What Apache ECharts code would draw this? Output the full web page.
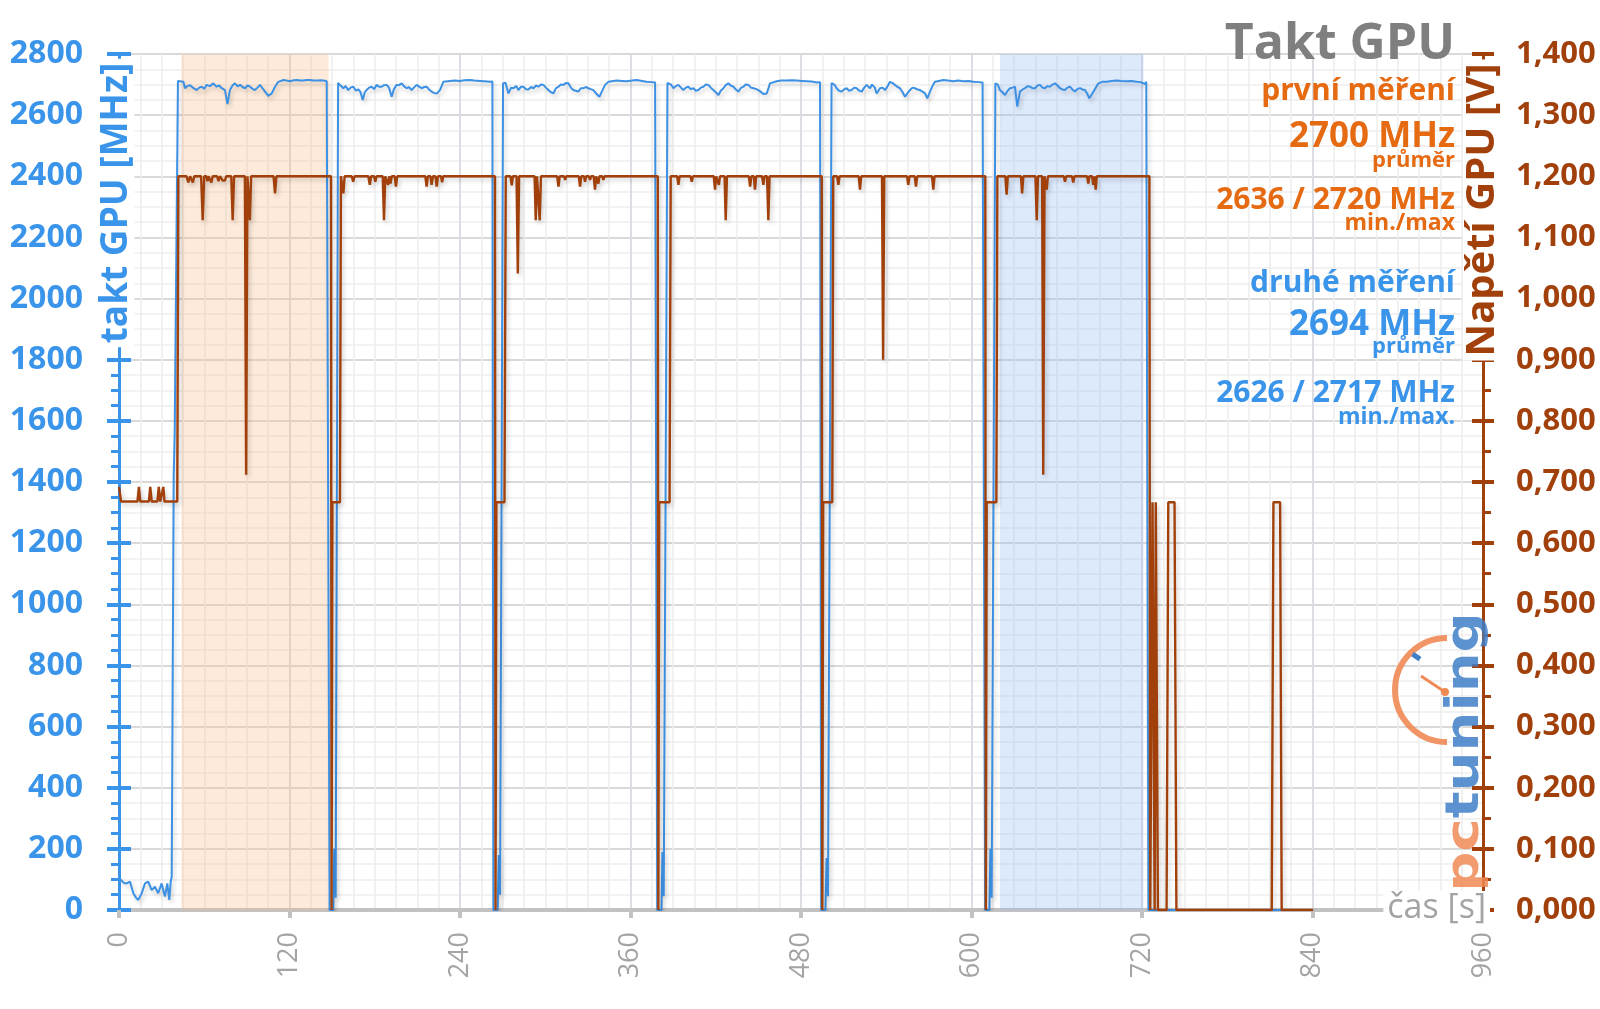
<!DOCTYPE html>
<html>
<head>
<meta charset="utf-8">
<script src="https://cdn.jsdelivr.net/npm/echarts@6/dist/echarts.min.js"></script>
<style>html,body{margin:0;padding:0;background:#fff}#c{width:1600px;height:1009px}</style>
</head>
<body>
<div id="c"></div>
<script>
// ---- data (time [s], value) ----
const timeTicks = [0, 120, 240, 360, 480, 600, 720, 840, 960];

const clockMHz = [
 [0,105],[1.9,96],[3.5,88],[5.4,87],[7.7,93],[10.1,55],[12,40],[13.6,33],[16,55],[18.3,87],[20.6,93],[23,65],[25.3,76],[27.6,55],[30,87],[32.3,44],[34,87],[35.4,33],[36.4,93],[37.1,109],
 [38.5,1420],[39.2,1560],[41.5,2712],
 [41.8,2709],[45.3,2709],[46.5,2688],[48,2695],[50,2698],[52,2690],[54.7,2682],[56.5,2690],[58.2,2693],[60,2686],[61.7,2699],[64,2695],[66.4,2704],[68.7,2693],[70.5,2697],[72.3,2688],[74.6,2682],[76.3,2636],[78.1,2682],[80,2698],[81.6,2704],[83.5,2694],[85.2,2699],[87,2692],[88.7,2688],[90.5,2697],[92.2,2693],[94,2686],[95.7,2682],[97.5,2690],[99.2,2699],[101,2688],[102.8,2677],[105.1,2663],[107.5,2671],[109.8,2693],[112.1,2709],[115.7,2715],[118,2713],[120.4,2711],[123,2714],[125.1,2715],[127.5,2713],[129.7,2713],[132,2715],[134.4,2715],[137,2713],[139.1,2713],[142,2714],[144,2713],[146.2,2711],[147.3,2712],
 [148.2,0],[150.8,0],[151.5,200],[152.5,40],[154.2,2705],
 [155,2709],[157.9,2688],[159.5,2695],[161.4,2682],[163,2690],[164.9,2693],[166.8,2680],[168.5,2684],[170,2675],[171.5,2650],[173,2675],[174.3,2682],[176,2690],[177.8,2693],[179.5,2685],[181.4,2699],[183,2693],[184.9,2693],[186.5,2698],[188.4,2699],[190,2690],[191.9,2660],[193.5,2685],[195.4,2699],[197,2698],[199,2704],[200.5,2695],[202.5,2688],[204,2692],[206,2682],[207.5,2690],[209.5,2699],[211,2694],[213,2688],[214.8,2692],[216.5,2693],[218.2,2684],[220,2677],[222,2672],[223.6,2671],[225.9,2682],[228.3,2709],[233,2712],[236,2713],[240,2712],[243,2714],[247,2715],[250,2713],[254.1,2712],[257,2711],[261.1,2709],[262.8,2710],
 [263.5,0],[266.5,0],[267.3,180],[268.2,50],[270.3,2704],
 [272,2706],[274.1,2671],[276,2690],[277.6,2688],[279.5,2695],[281.1,2682],[283,2693],[284.6,2693],[286.5,2685],[288.1,2684],[290,2692],[291.7,2688],[293.5,2697],[295.2,2693],[297,2700],[298.7,2699],[300.5,2690],[302.2,2682],[304,2675],[305.7,2671],[307.5,2688],[309.3,2693],[311,2700],[312.8,2699],[314.5,2705],[316.3,2704],[318,2690],[319.8,2682],[321.5,2680],[323.3,2677],[325,2688],[326.9,2688],[328.5,2692],[330.4,2688],[332,2685],[333.9,2682],[336.2,2669],[338.1,2660],[339.8,2677],[342.1,2699],[344.5,2709],[350.3,2713],[354,2712],[357.3,2711],[361,2713],[364.4,2715],[368,2712],[371.4,2709],[375,2708],[377.3,2707],[378,2712],
 [378.8,0],[381.8,0],[382.5,190],[383.4,45],[386,2705],
 [386.7,2704],[388.5,2700],[390.2,2688],[392,2695],[393.7,2699],[395.5,2690],[397.2,2682],[399,2690],[400.7,2693],[402.5,2685],[404.3,2688],[406,2680],[407.8,2682],[409.5,2690],[411.3,2693],[413,2700],[414.8,2699],[416.5,2690],[418.3,2682],[420,2675],[421.9,2666],[423.5,2680],[425.4,2688],[427,2698],[428.9,2704],[430.5,2697],[432.4,2693],[434,2685],[435.9,2677],[437.5,2688],[439.5,2693],[441,2700],[443,2699],[444.8,2690],[446.5,2688],[448.2,2686],[450,2682],[451.8,2676],[453.5,2669],[455.9,2671],[458.2,2704],[462.9,2711],[466,2713],[470,2713],[473.5,2714],[477,2713],[480.5,2712],[484,2711],[487.5,2710],[491,2707],[493.4,2708],
 [494.2,0],[497.2,0],[498,170],[499,45],[501.5,2705],
 [501.8,2704],[503.5,2700],[505.1,2688],[506.8,2680],[508.6,2677],[510.3,2684],[512.1,2688],[513.8,2680],[515.6,2682],[517.5,2690],[519.2,2688],[521,2680],[522.7,2677],[524.5,2690],[526.2,2699],[527.5,2694],[528.6,2688],[530,2700],[530.9,2704],[532,2690],[533.2,2671],[534.5,2680],[535.6,2688],[537.5,2690],[539.1,2682],[541,2695],[542.6,2709],[544.5,2705],[546.1,2699],[548,2692],[549.7,2688],[551.5,2675],[553.2,2660],[555,2672],[556.7,2682],[558.5,2690],[560.2,2688],[562,2684],[563.7,2682],[565.5,2677],[567.3,2671],[568.9,2655],[570.8,2677],[572.5,2695],[574.3,2709],[577,2712],[580.2,2715],[583.5,2713],[587.2,2711],[590.5,2713],[594.2,2711],[598,2712],[601.3,2709],[605,2708],[607.8,2707],[608.8,2710],
 [609.6,0],[612.6,0],[613.3,200],[614.2,40],[616.8,2704],
 [617.2,2704],[618.5,2700],[620,2682],[621.8,2675],[623.6,2666],[625.5,2680],[627.1,2688],[629,2690],[630.6,2693],[632.2,2628],[634.1,2677],[636,2684],[637.6,2688],[639.5,2695],[641.2,2693],[643,2688],[644.7,2688],[646.5,2697],[648.2,2699],[650,2690],[651.7,2688],[653.5,2695],[655.2,2693],[657,2700],[658.8,2704],[660.5,2697],[662.3,2688],[664,2684],[665.8,2682],[667.5,2690],[669.3,2693],[671,2684],[672.8,2677],[674.6,2686],[676.4,2688],[678,2684],[679.9,2682],[681.5,2670],[682.9,2655],[684.3,2665],[685.7,2671],[687.5,2690],[689.3,2704],[692,2709],[695.1,2709],[698.5,2712],[702.2,2713],[705.5,2712],[709.2,2711],[712.5,2712],[716.2,2709],[719,2708],[722.1,2702],[723,2709],[723.7,2708],
 [724.5,0],[840.4,0]
];

const voltageV = [
 [0,0.692],[1.5,0.668],[13,0.668],[14,0.692],[15,0.668],[21,0.668],[22,0.692],[23,0.668],[27,0.668],[28,0.692],[29,0.668],[30.3,0.668],[31.2,0.692],[32,0.668],[41,0.668],
 [41.8,1.2],[47.5,1.2],[48.8,1.19],[50,1.2],[51,1.2],[52,1.19],[53,1.2],[57.8,1.2],[58.9,1.128],[60,1.2],[61.5,1.2],[62.3,1.192],[63,1.2],[64.3,1.2],[65,1.19],[66,1.2],[69,1.2],[70,1.192],[71,1.2],[72.2,1.2],[73,1.193],[74.5,1.193],[75.5,1.2],[79,1.2],[80,1.128],[81,1.2],[88.6,1.2],[89.5,0.712],[90.4,1.2],[91.3,1.2],[92.1,1.128],[93,1.2],[108.8,1.2],[109.8,1.172],[110.8,1.2],[149.2,1.2],
 [149.6,0],[150.2,0.667],[155.5,0.667],[156.2,1.2],
 [157,1.2],[157.9,1.172],[158.8,1.2],[163.8,1.2],[164.8,1.191],[165.8,1.2],[175.5,1.2],[176.5,1.186],[177.5,1.2],[179.5,1.2],[180.4,1.191],[181.3,1.2],[185.6,1.2],[186.5,1.128],[187.4,1.2],[188.5,1.2],[189.4,1.186],[190.2,1.2],[191.1,1.188],[192,1.2],[194,1.2],[194.9,1.183],[195.8,1.2],[215.6,1.2],[216.5,1.183],[217.4,1.2],[219.2,1.2],[220,1.186],[221,1.2],[222.7,1.2],[223.6,1.183],[224.5,1.2],[226.6,1.2],[227.4,1.19],[228.2,1.2],[264.6,1.2],
 [265,0],[265.6,0.667],[271.3,0.667],[272.2,1.2],
 [275.5,1.2],[276.4,1.185],[277.3,1.2],[279.8,1.2],[280.7,1.041],[281.6,1.2],[292.5,1.2],[293.3,1.128],[294.2,1.2],[295.3,1.2],[296.1,1.128],[297,1.2],[308.4,1.2],[309.3,1.183],[310.2,1.2],[313.2,1.2],[314,1.194],[314.8,1.2],[323.6,1.2],[324.5,1.183],[325.4,1.2],[327.2,1.2],[328,1.191],[328.8,1.2],[330.7,1.2],[331.5,1.194],[332.3,1.2],[334.1,1.2],[335,1.178],[335.9,1.2],[336.6,1.2],[337.4,1.188],[338.2,1.2],[340.1,1.2],[340.9,1.194],[341.7,1.2],[379.2,1.2],
 [379.6,0],[380.2,0.667],[387.5,0.667],[388.3,1.2],
 [392.8,1.2],[393.7,1.186],[394.6,1.2],[402.2,1.2],[403.1,1.191],[404,1.2],[418.6,1.2],[419.5,1.178],[420.3,1.2],[421.5,1.2],[422.2,1.186],[423,1.2],[426.2,1.2],[427,1.128],[427.9,1.2],[443.3,1.2],[444.2,1.183],[445.1,1.2],[446.8,1.2],[447.6,1.178],[448.5,1.2],[452.6,1.2],[453.5,1.186],[454.4,1.2],[456.1,1.2],[457,1.128],[457.9,1.2],[494.6,1.2],
 [495,0],[495.6,0.667],[502,0.667],[502.7,1.2],
 [505.4,1.2],[506.3,1.186],[507.2,1.2],[520.6,1.2],[521.5,1.178],[522.4,1.2],[537,1.2],[537.8,0.9],[538.6,1.2],[554.6,1.2],[555.5,1.186],[556.4,1.2],[560,1.2],[560.9,1.183],[561.8,1.2],[572.2,1.2],[573.1,1.178],[574,1.2],[609.7,1.2],
 [610.1,0],[610.7,0.667],[617.5,0.667],[618.2,1.2],
 [623.8,1.2],[624.7,1.17],[625.6,1.2],[634.8,1.2],[635.6,1.172],[636.5,1.2],[645,1.2],[645.9,1.128],[646.8,1.2],[649.7,1.2],[650.5,0.712],[651.4,1.2],[652,1.2],[652.9,1.178],[653.8,1.2],[664.9,1.2],[665.8,1.191],[666.7,1.2],[670.7,1.2],[671.6,1.19],[672.5,1.2],[681.3,1.2],[682.2,1.188],[683,1.2],[684.9,1.2],[685.7,1.186],[686.5,1.2],[687.4,1.178],[688.2,1.2],[725.2,1.2],
 [725.8,0],[727.4,0.667],[728,0.667],[728.9,0],[729.7,0.667],[730.4,0.667],[731.2,0],[737.3,0],[738.5,0.667],[742.9,0.667],[744.2,0],[811.3,0],[812.5,0.667],[817.2,0.667],[818.3,0],[840.4,0]
];

const bandFirst = [44, 147.5];   // první měření
const bandSecond = [620, 721];   // druhé měření

const titleText = 'Takt GPU';
const firstLines = ['první měření', '2700 MHz', 'průměr', '2636 / 2720 MHz', 'min./max'];
const secondLines = ['druhé měření', '2694 MHz', 'průměr', '2626 / 2717 MHz', 'min./max.'];

// ---- styles ----
const BLUE = '#3a95ea';
const LINEBLUE = '#3d91e4';
const BROWN = '#a1400b';
const ORANGE = '#e56a12';
const FONT = 'Open Sans';

const chart = echarts.init(document.getElementById('c'), null, {renderer: 'canvas'});

function txt(text, x, y, size, color, weight, extra) {
  return Object.assign({
    type: 'text', x: x, y: y, z: 100,
    style: {text: text, fill: color, font: (weight || 'bold') + ' ' + size + 'px "' + FONT + '"', align: 'right', verticalAlign: 'middle'}
  }, extra || {});
}

const RX = 1455;
const option = {
  animation: false,
  backgroundColor: '#ffffff',
  grid: {left: 119, right: 117, top: 54, bottom: 99},
  xAxis: {
    type: 'value', min: timeTicks[0], max: timeTicks[timeTicks.length - 1], interval: 120,
    axisLine: {show: true, lineStyle: {color: '#c2c2c2', width: 4}},
    axisTick: {show: true, length: 8, lineStyle: {color: '#c2c2c2', width: 4}},
    minorTick: {show: false, splitNumber: 8},
    splitLine: {show: true, lineStyle: {color: '#dcdce3', width: 2}},
    minorSplitLine: {show: true, lineStyle: {color: '#ededed', width: 1.5}},
    axisLabel: {rotate: 90, margin: 22, color: '#a4a4a4', fontSize: 27, fontFamily: FONT}
  },
  yAxis: [
    {
      type: 'value', min: 0, max: 2800, interval: 200, position: 'left',
      axisLine: {show: true, lineStyle: {color: BLUE, width: 3}},
      axisTick: {show: true, length: 12, lineStyle: {color: BLUE, width: 4}},
      minorTick: {show: true, splitNumber: 4, length: 8, lineStyle: {color: BLUE, width: 3}},
      splitLine: {show: true, lineStyle: {color: '#d9d9d9', width: 2}},
      minorSplitLine: {show: true, lineStyle: {color: '#eeeeee', width: 1.5}},
      axisLabel: {color: BLUE, fontSize: 32, fontWeight: 'bold', fontFamily: FONT, margin: 36,
        formatter: v => String(v)}
    },
    {
      type: 'value', min: 0, max: 1.4, interval: 0.1, position: 'right',
      axisLine: {show: true, lineStyle: {color: BROWN, width: 3}},
      axisTick: {show: true, length: 11, lineStyle: {color: BROWN, width: 4}},
      minorTick: {show: true, splitNumber: 2, length: 8, lineStyle: {color: BROWN, width: 3}},
      splitLine: {show: false},
      axisLabel: {color: BROWN, fontSize: 31, fontWeight: 'bold', fontFamily: FONT, margin: 33,
        formatter: v => v.toFixed(3).replace('.', ',')}
    },
    {
      type: 'value', min: 0, max: 2800, interval: 200, position: 'left',
      axisLine: {show: false}, axisLabel: {show: false}, splitLine: {show: false},
      axisTick: {show: true, inside: true, length: 12, lineStyle: {color: BLUE, width: 4}}
    },
    {
      type: 'value', min: 0, max: 1.4, interval: 0.1, position: 'right',
      axisLine: {show: false}, axisLabel: {show: false}, splitLine: {show: false},
      axisTick: {show: true, inside: true, length: 11, lineStyle: {color: BROWN, width: 4}}
    }
  ],
  series: [
    {
      name: 'takt GPU', type: 'line', yAxisIndex: 0, data: clockMHz,
      symbol: 'none', showSymbol: false, z: 3,
      lineStyle: {color: LINEBLUE, width: 2, shadowColor: 'rgba(0,0,0,0.18)', shadowBlur: 4, shadowOffsetX: 2, shadowOffsetY: 3},
      markArea: {
        silent: true,
        data: [
          [{xAxis: bandFirst[0], itemStyle: {color: 'rgba(250,190,140,0.32)'}}, {xAxis: bandFirst[1]}],
          [{xAxis: bandSecond[0], itemStyle: {color: 'rgba(150,190,245,0.32)'}}, {xAxis: bandSecond[1]}]
        ]
      }
    },
    {
      name: 'Napětí GPU', type: 'line', yAxisIndex: 1, data: voltageV,
      symbol: 'none', showSymbol: false, z: 4,
      lineStyle: {color: BROWN, width: 2.4, shadowColor: 'rgba(0,0,0,0.18)', shadowBlur: 4, shadowOffsetX: 2, shadowOffsetY: 3}
    }
  ],
  graphic: [
    txt(titleText, RX, 45, 50, '#7f7f7f'),
    txt(firstLines[0], RX, 91, 30, ORANGE),
    txt(firstLines[1], RX, 137, 35, ORANGE),
    txt(firstLines[2], RX, 161, 22, ORANGE),
    txt(firstLines[3], RX, 200, 30, ORANGE),
    txt(firstLines[4], RX, 223, 23, ORANGE),
    txt(secondLines[0], RX, 283, 30, BLUE),
    txt(secondLines[1], RX, 325, 35, BLUE),
    txt(secondLines[2], RX, 347, 22, BLUE),
    txt(secondLines[3], RX, 393, 30, BLUE),
    txt(secondLines[4], RX, 417, 23, BLUE),
    // axis names
    {type: 'text', x: 116, y: 203, rotation: Math.PI / 2, z: 100,
      style: {text: 'takt GPU [MHz]', fill: BLUE, font: 'bold 37px "' + FONT + '"', align: 'center', verticalAlign: 'middle',
        backgroundColor: '#ffffff', padding: [0, 4]}},
    {type: 'text', x: 1483, y: 210, rotation: Math.PI / 2, z: 100,
      style: {text: 'Napětí GPU [V]', fill: BROWN, font: 'bold 40px "' + FONT + '"', align: 'center', verticalAlign: 'middle',
        backgroundColor: '#ffffff', padding: [0, 4]}},
    {type: 'text', x: 1490, y: 908, z: 100,
      style: {text: 'čas [s]', fill: '#a4a4a4', font: '34px "' + FONT + '"', align: 'right', verticalAlign: 'middle',
        backgroundColor: '#ffffff', padding: [0, 4]}},
    // pctuning logo
    {type: 'arc', z: 99, shape: {cx: 1447, cy: 690, r: 52, startAngle: Math.PI / 2, endAngle: Math.PI * 1.5, clockwise: true},
      style: {stroke: '#f08a55', lineWidth: 6, fill: null, opacity: 0.9}},
    {type: 'line', z: 99, shape: {x1: 1421, y1: 676, x2: 1445, y2: 692}, style: {stroke: '#f08a55', lineWidth: 3}},
    {type: 'circle', z: 99, shape: {cx: 1445, cy: 692, r: 4}, style: {fill: '#f08a55'}},
    {type: 'rect', z: 99, x: 1414, y: 652, rotation: -0.6, shape: {x: 0, y: 0, width: 9, height: 5}, style: {fill: '#3f7fc8'}},
    {type: 'text', x: 1466, y: 752, rotation: Math.PI / 2, scaleX: 1.22, z: 101,
      style: {rich: {o: {fill: '#f08a55', font: 'bold 46px "DejaVu Sans"'}, b: {fill: '#3f7fc8', font: 'bold 46px "DejaVu Sans"'}},
        text: '{o|pc}{b|tuning}', align: 'center', verticalAlign: 'middle', opacity: 0.85}}
  ]
};
chart.setOption(option);
</script>
</body>
</html>
